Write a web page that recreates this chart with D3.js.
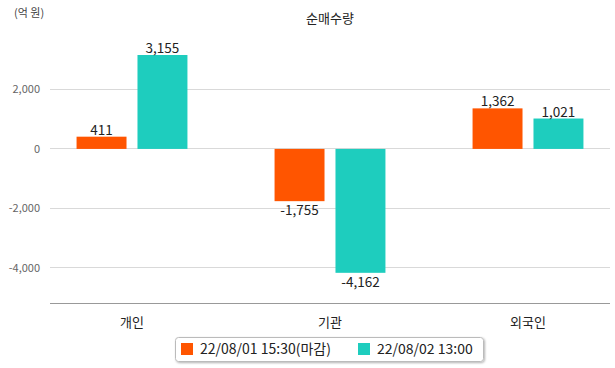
<!DOCTYPE html>
<html><head><meta charset="utf-8">
<script src="https://cdn.jsdelivr.net/npm/d3@7"></script>
<style>body{margin:0;background:#fff;font-family:"Noto Sans CJK KR","Noto Sans",sans-serif;}</style>
</head><body>
<script>
const categories = ["개인", "기관", "외국인"];
const seriesNames = ["22/08/01 15:30(마감)", "22/08/02 13:00"];
const series1 = [411, -1755, 1362];
const series2 = [3155, -4162, 1021];
const yTicks = [-4000, -2000, 0, 2000];
const colors = ["#FF5500", "#1ECDBE"];

const fmt = v => d3.format(",")(v).replace("−", "-");
const W = 615, H = 368;
const svg = d3.select("body").append("svg").attr("width", W).attr("height", H)
  .style("font-family", '"Noto Sans CJK KR","Noto Sans",sans-serif');

const y = d3.scaleLinear().domain([-5176, 3155]).range([303, 55]);
const x0 = d3.scaleBand().domain(categories).range([33, 627]).paddingInner(0.44).paddingOuter(0.22);
const x1 = d3.scaleBand().domain([0, 1]).range([0, x0.bandwidth()]).paddingInner(0.18).paddingOuter(0);

// gridlines
svg.append("g").selectAll("line").data(yTicks).join("line")
  .attr("x1", 50).attr("x2", 610).attr("y1", d => y(d)).attr("y2", d => y(d))
  .attr("stroke", "#d9d9d9").attr("stroke-width", 1).attr("shape-rendering", "crispEdges");

svg.append("g").selectAll("text").data(yTicks).join("text")
  .attr("x", 40).attr("y", d => y(d)).attr("dy", "0.35em").attr("text-anchor", "end")
  .attr("font-size", 11).attr("fill", "#666")
  .text(fmt);

// baseline axis
svg.append("line").attr("x1", 50).attr("x2", 610).attr("y1", 303).attr("y2", 303)
  .attr("stroke", "#999").attr("shape-rendering", "crispEdges");

const data = categories.map((c, i) => ({c, vals: [series1[i], series2[i]]}));
const g = svg.append("g").selectAll("g").data(data).join("g")
  .attr("transform", d => `translate(${x0(d.c)},0)`);
g.selectAll("rect").data(d => d.vals.map((v, k) => ({v, k}))).join("rect")
  .attr("x", d => x1(d.k)).attr("width", x1.bandwidth())
  .attr("y", d => y(Math.max(0, d.v))).attr("height", d => Math.abs(y(d.v) - y(0)))
  .attr("fill", d => colors[d.k]);
g.selectAll("text.val").data(d => d.vals.map((v, k) => ({v, k}))).join("text")
  .attr("class", "val")
  .attr("x", d => x1(d.k) + x1.bandwidth() / 2)
  .attr("y", d => d.v >= 0 ? y(d.v) - 2 : y(d.v) + 14)
  .attr("text-anchor", "middle").attr("font-size", 13.5).attr("fill", "#222")
  .text(d => fmt(d.v));

// category labels
svg.append("g").selectAll("text").data(categories).join("text")
  .attr("x", d => x0(d) + x0.bandwidth() / 2).attr("y", 327)
  .attr("text-anchor", "middle").attr("font-size", 13).attr("fill", "#222").text(d => d);

// title
svg.append("text").attr("x", 330).attr("y", 23).attr("text-anchor", "middle")
  .attr("font-size", 13).attr("fill", "#222").text("순매수량");
svg.append("text").attr("x", 14).attr("y", 17).attr("font-size", 11).attr("fill", "#444").text("(억 원)");

// legend
const defs = svg.append("defs");
const f = defs.append("filter").attr("id", "sh").attr("x", "-10%").attr("y", "-30%").attr("width", "120%").attr("height", "160%");
f.append("feDropShadow").attr("dx", 1).attr("dy", 1).attr("stdDeviation", 1).attr("flood-color", "#000").attr("flood-opacity", 0.3);
svg.append("rect").attr("x", 175.5).attr("y", 337.5).attr("width", 308).attr("height", 24).attr("rx", 3)
  .attr("fill", "#fff").attr("stroke", "#bbb").attr("filter", "url(#sh)");
const legX = [181, 358];
const lg = svg.append("g").selectAll("g").data(seriesNames).join("g")
  .attr("transform", (d, i) => `translate(${legX[i]},343)`);
lg.append("rect").attr("width", 12).attr("height", 12).attr("fill", (d, i) => colors[i]);
lg.append("text").attr("x", 19).attr("y", 6).attr("dy", "0.35em").attr("font-size", 14).attr("fill", "#222").text(d => d);
</script>
</body></html>
